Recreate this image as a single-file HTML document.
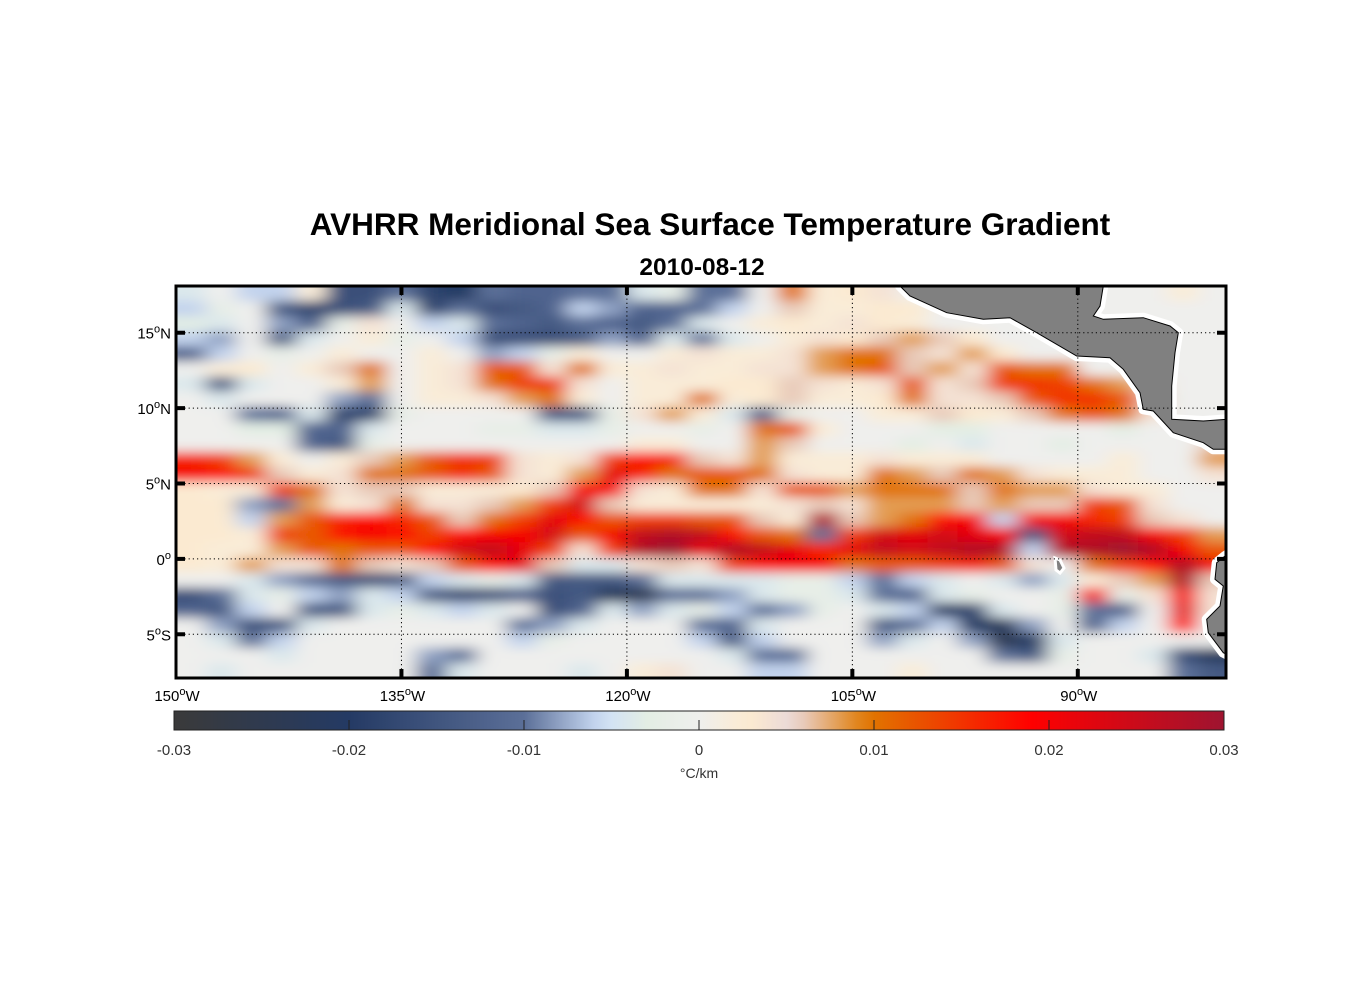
<!DOCTYPE html>
<html><head><meta charset="utf-8">
<style>
html,body{margin:0;padding:0;background:#fff;}
svg{display:block;font-family:"Liberation Sans",Arial,sans-serif;}
</style></head>
<body>
<svg id="chart" width="1356" height="1000" viewBox="0 0 1356 1000">
<defs>
<filter id="blur" filterUnits="userSpaceOnUse" x="140" y="260" width="1120" height="450"><feGaussianBlur stdDeviation="10 5.5"/></filter>
<clipPath id="mapclip"><rect x="176" y="286" width="1050" height="392"/></clipPath>
<linearGradient id="cbgrad" x1="0" x2="1" y1="0" y2="0"></linearGradient>
</defs>
<rect x="0" y="0" width="1356" height="1000" fill="#fff"/>
<text x="710" y="235" text-anchor="middle" font-size="31.5" font-weight="bold" fill="#000">AVHRR Meridional Sea Surface Temperature Gradient</text>
<text x="702" y="275" text-anchor="middle" font-size="24.5" font-weight="bold" fill="#000">2010-08-12</text>
<g clip-path="url(#mapclip)">
<rect x="176" y="286" width="1050" height="392" fill="#efefed"/>
<g id="cells" filter="url(#blur)"></g>
<g>
<polygon id="ca1" fill="none" stroke="#fff" stroke-width="10" stroke-linejoin="round" points=""/>
<polygon id="ca2" fill="#808080" stroke="#000" stroke-width="1" points=""/>
<polygon id="sa1" fill="none" stroke="#fff" stroke-width="10" stroke-linejoin="round" points=""/>
<polygon id="sa2" fill="#808080" stroke="#000" stroke-width="1" points=""/>
<polygon fill="#808080" stroke="#fff" stroke-width="3" points="1055,558 1060,560 1064,568 1060,573 1056,570"/>
</g>
<g id="grid"></g>
</g>
<rect x="176" y="286" width="1050" height="392" fill="none" stroke="#000" stroke-width="3"/>
<g id="ticks"></g>
<g id="ylabels" font-size="15" fill="#000"></g>
<g id="xlabels" font-size="15" fill="#000"></g>
<g>
<rect x="174" y="711" width="1050" height="19" fill="url(#cbgrad)" stroke="#222" stroke-width="1"/>
<g id="cbticks"></g>
<text x="699" y="778" text-anchor="middle" font-size="14" fill="#333">°C/km</text>
</g>
</svg>
<script>
// Grid: columns = 2° lon from 150W, rows = 1° lat from 18N downward. Values in 0.001 °C/km
const lonStart = -150, lonStep = 2, latStart = 18.1, latStep = 1;
const cbTicks = [-0.03,-0.02,-0.01,0,0.01,0.02,0.03];
const cbTickLabels = ["-0.03","-0.02","-0.01","0","0.01","0.02","0.03"];
const latTicks = [15,10,5,0,-5];
const latTickLabels = ["15","10","5","0","5"];
const latTickSuffix = ["N","N","N","",  "S"];
const lonTicks = [-150,-135,-120,-105,-90];
const lonTickLabels = ["150","135","120","105","90"];
const row00=[-4,0,-6,-6,2,-16,-16,-10,-18,-20,-10,-12,-12,-10,-10,-4,-2,-10,-10,0,10,2,3,4,0,0,0,0,0,0,0,0,0,2,0];
const row01=[-6,-2,0,-14,-18,-16,-14,-4,-18,-10,-16,-14,-12,-6,-8,-12,-12,-10,-6,0,6,2,2,3,3,0,0,0,0,0,0,0,0,0,0];
const row02=[-3,-4,0,-8,-12,-2,4,0,-6,-4,-10,-12,-14,-10,-12,-14,-10,-4,0,2,3,2,4,3,2,0,0,0,0,0,0,0,0,0,0];
const row03=[-6,-8,0,-14,-4,0,2,-2,0,-6,-16,-16,-16,-14,-8,-12,-4,-10,-4,0,2,4,3,6,8,6,3,0,0,0,0,0,0,0,0];
const row04=[-12,-6,0,-2,0,2,0,0,2,0,-8,-6,-2,2,0,0,2,4,2,2,4,8,10,10,6,4,8,3,0,0,0,0,0,0,0];
const row05=[0,2,3,0,2,6,10,0,2,4,12,12,4,10,2,2,4,2,2,4,4,8,10,12,6,8,4,12,10,10,0,0,0,0,0];
const row06=[-4,-14,-4,0,0,2,8,0,2,4,10,14,14,4,0,2,2,2,3,3,6,4,2,4,12,4,6,14,15,14,10,8,4,0,0];
const row07=[0,-4,0,0,0,-8,-10,0,2,2,4,8,10,2,0,2,2,10,2,3,6,2,2,3,10,4,4,6,12,15,15,12,6,0,0];
const row08=[0,0,-10,-12,-4,-18,-18,-2,0,0,0,0,-14,-14,-2,4,8,2,-4,-12,-2,0,0,2,2,6,3,2,6,10,12,10,4,0,0];
const row09=[0,0,-3,-3,-12,-12,-4,0,0,0,-2,-2,-4,-4,-2,0,0,-2,0,10,12,2,0,0,0,-3,-3,0,0,0,0,-3,0,0,0];
const row10=[0,0,0,0,-12,-14,-2,0,0,0,0,0,0,0,0,2,2,0,0,8,6,0,0,0,-3,0,-4,0,0,-3,0,0,0,0,6];
const row11=[16,14,8,2,0,2,6,8,12,15,14,4,2,4,14,18,16,6,4,8,2,2,2,4,2,2,2,0,0,0,0,2,0,0,8];
const row12=[20,18,14,6,2,4,10,10,12,15,12,4,2,8,22,16,10,12,12,10,4,2,2,10,8,6,10,8,4,2,2,2,0,0,4];
const row13=[3,2,2,14,10,4,6,6,2,2,2,3,6,20,20,4,2,10,10,4,12,12,8,10,10,10,6,10,8,8,4,2,2,0,0];
const row14=[3,3,-8,-10,8,2,4,10,4,4,6,8,14,24,6,2,2,2,2,2,4,6,4,8,8,8,6,8,6,6,14,12,4,0,0];
const row15=[3,3,-6,8,12,16,18,16,12,6,10,14,22,18,12,14,14,12,12,6,2,28,6,8,10,18,20,-6,20,20,16,14,6,4,0];
const row16=[3,3,2,14,12,18,20,18,14,18,20,20,24,12,20,26,28,26,18,12,10,-10,14,24,22,24,22,20,-14,24,26,26,20,14,8];
const row17=[3,2,2,8,12,10,12,12,18,24,26,22,14,4,14,28,30,22,28,26,22,16,22,26,24,26,28,28,-6,28,28,30,28,20,12];
const row18=[3,2,8,4,4,10,6,4,6,12,18,22,6,-4,-4,4,6,4,14,18,20,20,10,12,12,14,16,12,4,0,10,14,18,28,20];
const row19=[0,0,-4,-8,-10,-14,-16,-14,-6,-4,-2,-4,-14,-14,-14,-10,-4,-4,-4,-4,-2,-2,-6,-10,-6,-4,0,-4,-8,-4,2,6,8,28,6];
const row20=[-16,-10,-4,-2,-6,-8,-4,-6,-14,-18,-16,-12,-16,-14,-22,-24,-10,-10,-8,-4,-2,-2,-4,-10,-12,-4,-2,0,0,-2,20,-2,4,20,4];
const row21=[-12,-14,-6,0,-14,-14,-4,-2,-4,-6,-4,0,-16,-12,-4,-8,-4,-2,-6,-10,-8,-2,0,-4,-6,-20,-18,-4,0,-2,-10,-12,0,22,4];
const row22=[0,-8,-16,-14,-4,0,0,0,0,0,0,-10,-8,-4,0,0,0,-10,-12,-4,0,0,0,-14,-10,-6,-20,-22,-8,0,-12,-6,0,18,0];
const row23=[0,-4,-10,-6,0,0,0,0,0,0,0,-6,-2,0,0,0,0,-6,-14,-6,0,0,0,-8,-4,0,-8,-24,-20,-4,0,0,0,0,0];
const row24=[0,0,0,-4,0,0,0,0,-8,-10,0,0,0,0,0,0,0,0,-4,-10,-10,0,0,0,0,0,0,-10,-14,-2,0,0,-4,-16,-22];
const row25=[0,-4,0,0,0,0,0,0,-10,-4,0,0,0,-4,0,2,4,0,0,-6,-6,0,0,0,2,0,0,0,0,0,0,0,0,-10,-14];
const rows=[row00,row01,row02,row03,row04,row05,row06,row07,row08,row09,row10,row11,row12,row13,row14,row15,row16,row17,row18,row19,row20,row21,row22,row23,row24,row25];

const NS="http://www.w3.org/2000/svg";
const X0=176, X1=1226, LON0=-150, LON1=-80.14;
const Y0=286, Y1=678, LAT0=18.1, LAT1=-7.9;
function xLon(l){return X0+(l-LON0)/(LON1-LON0)*(X1-X0);}
function yLat(l){return Y0+(LAT0-l)/(LAT0-LAT1)*(Y1-Y0);}
const cbX0=174, cbX1=1224;
function xCb(v){return cbX0+(v+0.03)/0.06*(cbX1-cbX0);}

const stops=[[-30,[58,58,58]],[-20,[36,58,100]],[-10,[91,111,152]],[-5.5,[207,224,248]],[-3,[227,238,228]],[0,[239,239,237]],[2.8,[253,235,208]],[5.4,[233,216,216]],[9.6,[224,120,0]],[19,[255,0,0]],[30,[158,20,48]]];
function color(v){
  if(v<=stops[0][0]) return 'rgb('+stops[0][1].join(',')+')';
  for(let i=1;i<stops.length;i++){
    if(v<=stops[i][0]){const a=stops[i-1],b=stops[i];const t=(v-a[0])/(b[0]-a[0]);
      const c=a[1].map((q,k)=>Math.round(q+(b[1][k]-q)*t));return 'rgb('+c.join(',')+')';}
  }
  return 'rgb('+stops[stops.length-1][1].join(',')+')';
}

const cells=document.getElementById('cells');
rows.forEach((r,j)=>{
  r.forEach((v,i)=>{
    const lonA=lonStart+i*lonStep, lonB=lonA+lonStep;
    const latA=latStart-j*latStep, latB=latA-latStep;
    let x=xLon(lonA), x2=xLon(lonB), y=yLat(latA), y2=yLat(latB);
    if(i===0) x-=25; if(i===r.length-1) x2+=25;
    if(j===0) y-=15; if(j===rows.length-1) y2+=15;
    const rc=document.createElementNS(NS,'rect');
    rc.setAttribute('x',x.toFixed(1));rc.setAttribute('y',y.toFixed(1));
    rc.setAttribute('width',(x2-x+0.6).toFixed(1));rc.setAttribute('height',(y2-y+0.6).toFixed(1));
    rc.setAttribute('fill',color(v));
    
    
    cells.appendChild(rc);
  });
});

function zp(arr){return arr.map(p=>(870+p[0]/3).toFixed(1)+','+(286+p[1]/3).toFixed(1)).join(' ');}
const caPts=zp([[90,-20],[700,-20],[700,0],[690,60],[670,90],[700,100],[820,95],[900,120],[925,140],[915,200],[905,300],[905,400],[1000,405],[1070,400],[1070,490],[1030,490],[1000,470],[910,440],[850,375],[820,370],[810,320],[760,250],[720,215],[620,210],[500,140],[420,95],[340,100],[230,80],[120,30],[90,0]]);
const saPts=zp([[1080,800],[1065,810],[1040,830],[1035,880],[1060,900],[1050,960],[1010,1000],[1015,1040],[1060,1100],[1080,1110]]);
['ca1','ca2'].forEach(id=>document.getElementById(id).setAttribute('points',caPts));
['sa1','sa2'].forEach(id=>document.getElementById(id).setAttribute('points',saPts));

const grid=document.getElementById('grid');
latTicks.forEach(l=>{const ln=document.createElementNS(NS,'line');
  ln.setAttribute('x1',X0);ln.setAttribute('x2',X1);ln.setAttribute('y1',yLat(l));ln.setAttribute('y2',yLat(l));
  ln.setAttribute('stroke','#000');ln.setAttribute('stroke-width','1');ln.setAttribute('stroke-dasharray','1.2 3');
  
  
  grid.appendChild(ln);});
lonTicks.slice(1).forEach(l=>{const ln=document.createElementNS(NS,'line');
  ln.setAttribute('y1',Y0);ln.setAttribute('y2',Y1);ln.setAttribute('x1',xLon(l));ln.setAttribute('x2',xLon(l));
  ln.setAttribute('stroke','#000');ln.setAttribute('stroke-width','1');ln.setAttribute('stroke-dasharray','1.2 3');
  
  
  grid.appendChild(ln);});

const tk=document.getElementById('ticks');
function tline(x1,y1,x2,y2){const ln=document.createElementNS(NS,'line');
  ln.setAttribute('x1',x1);ln.setAttribute('y1',y1);ln.setAttribute('x2',x2);ln.setAttribute('y2',y2);
  ln.setAttribute('stroke','#000');ln.setAttribute('stroke-width','4');
  
  
  tk.appendChild(ln);}
latTicks.forEach(l=>{const y=yLat(l);tline(X0,y,X0+9,y);tline(X1-9,y,X1,y);});
lonTicks.slice(1).forEach(l=>{const x=xLon(l);tline(x,Y0,x,Y0+9);tline(x,Y1-9,x,Y1);});

const yl=document.getElementById('ylabels');
latTicks.forEach((l,i)=>{const t=document.createElementNS(NS,'text');
  t.setAttribute('x',171);t.setAttribute('y',yLat(l)+6);t.setAttribute('text-anchor','end');
  t.innerHTML=latTickLabels[i]+'<tspan dy="-6" font-size="11">o</tspan><tspan dy="6">'+latTickSuffix[i]+'</tspan>';
  
  
  yl.appendChild(t);});
const xl=document.getElementById('xlabels');
lonTicks.forEach((l,i)=>{const t=document.createElementNS(NS,'text');
  t.setAttribute('x',xLon(l)+1);t.setAttribute('y',701);t.setAttribute('text-anchor','middle');
  t.innerHTML=lonTickLabels[i]+'<tspan dy="-6" font-size="11">o</tspan><tspan dy="6">W</tspan>';
  
  
  xl.appendChild(t);});

const grad=document.getElementById('cbgrad');
for(let k=0;k<=60;k++){const v=-30+k;const s=document.createElementNS(NS,'stop');
  s.setAttribute('offset',(k/60).toFixed(4));s.setAttribute('stop-color',color(v));grad.appendChild(s);}
const cbt=document.getElementById('cbticks');
cbTicks.forEach((v,i)=>{const x=xCb(v);
  if(i>0&&i<cbTicks.length-1){const ln=document.createElementNS(NS,'line');
    ln.setAttribute('x1',x);ln.setAttribute('x2',x);ln.setAttribute('y1',720);ln.setAttribute('y2',730);
    ln.setAttribute('stroke','#222');ln.setAttribute('stroke-width','1');
    
    
    cbt.appendChild(ln);}
  const t=document.createElementNS(NS,'text');
  t.setAttribute('x',x);t.setAttribute('y',755);t.setAttribute('text-anchor','middle');
  t.setAttribute('font-size','15');t.setAttribute('fill','#333');t.textContent=cbTickLabels[i];
  
  
  cbt.appendChild(t);});
</script>
</body></html>
